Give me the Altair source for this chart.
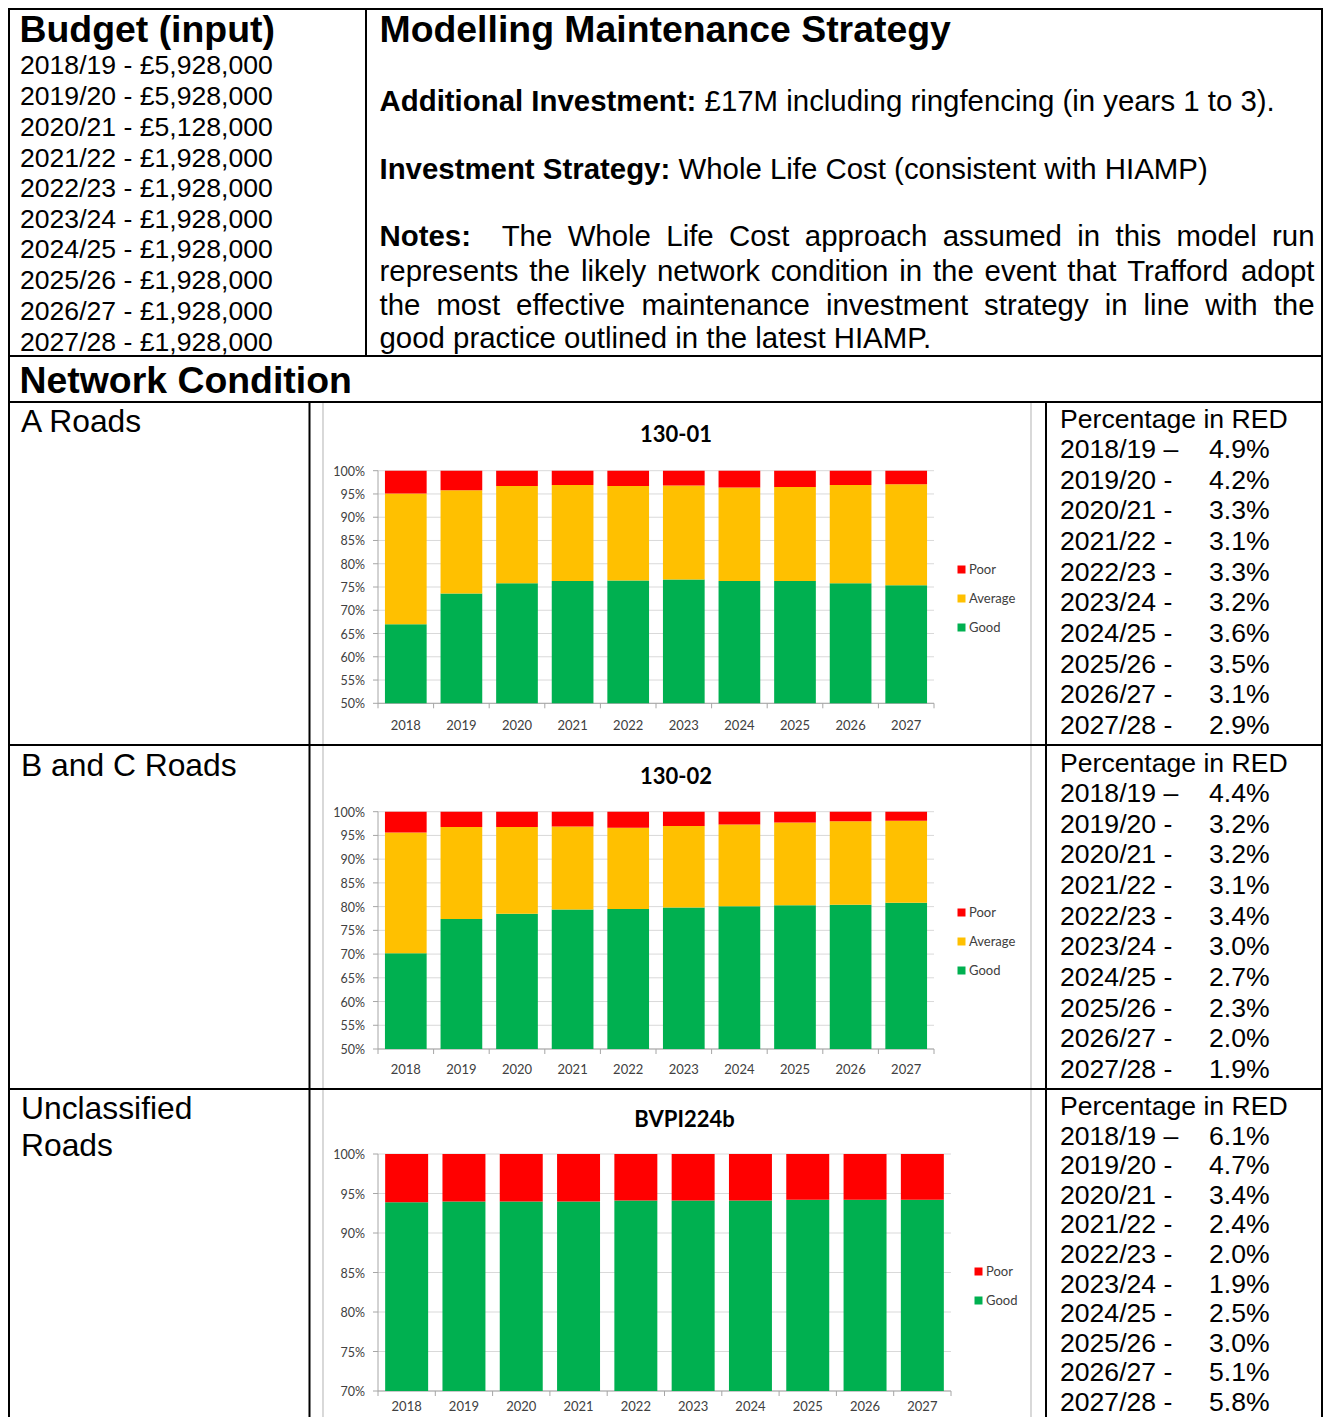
import altair as alt
import pandas as pd

# ---------------- data ----------------
YEARS = ["2018", "2019", "2020", "2021", "2022", "2023", "2024", "2025", "2026", "2027"]
FIN_YEARS = ["2018/19", "2019/20", "2020/21", "2021/22", "2022/23",
             "2023/24", "2024/25", "2025/26", "2026/27", "2027/28"]
BUDGET = [5928000, 5928000, 5128000, 1928000, 1928000,
          1928000, 1928000, 1928000, 1928000, 1928000]

A_GOOD = [67.0, 73.6, 75.8, 76.3, 76.4, 76.6, 76.3, 76.3, 75.8, 75.4]
A_AVG = [28.1, 22.2, 20.9, 20.6, 20.3, 20.2, 20.1, 20.2, 21.1, 21.7]
A_POOR = [4.9, 4.2, 3.3, 3.1, 3.3, 3.2, 3.6, 3.5, 3.1, 2.9]

B_GOOD = [70.2, 77.4, 78.5, 79.4, 79.5, 79.8, 80.1, 80.3, 80.4, 80.8]
B_AVG = [25.4, 19.4, 18.3, 17.5, 17.1, 17.2, 17.2, 17.4, 17.6, 17.3]
B_POOR = [4.4, 3.2, 3.2, 3.1, 3.4, 3.0, 2.7, 2.3, 2.0, 1.9]

C_GOOD = [93.9, 94.0, 94.0, 94.0, 94.1, 94.1, 94.1, 94.2, 94.2, 94.2]
C_POOR = [6.1, 6.0, 6.0, 6.0, 5.9, 5.9, 5.9, 5.8, 5.8, 5.8]

A_RED_TEXT = [4.9, 4.2, 3.3, 3.1, 3.3, 3.2, 3.6, 3.5, 3.1, 2.9]
B_RED_TEXT = [4.4, 3.2, 3.2, 3.1, 3.4, 3.0, 2.7, 2.3, 2.0, 1.9]
C_RED_TEXT = [6.1, 4.7, 3.4, 2.4, 2.0, 1.9, 2.5, 3.0, 5.1, 5.8]

CONDS = ["Poor", "Average", "Good"]
COLORS = ["#ff0000", "#ffc000", "#00b050"]

DOC_FONT = "Liberation Sans"
XL_FONT = "Lato"
W, H = 1315, 1409
OFF = 8  # page margin: reference px -> chart px

# ---------------- text metrics (Arial / Liberation Sans) ----------------
REG = {" ": 278, "(": 333, ")": 333, ",": 278, "-": 333, ".": 278, "/": 278, ":": 278,
       "£": 556, "%": 889, "–": 556,
       "A": 667, "B": 667, "C": 722, "D": 722, "E": 667, "F": 611, "G": 778, "H": 722,
       "I": 278, "J": 500, "K": 667, "L": 556, "M": 833, "N": 722, "O": 778, "P": 667,
       "Q": 778, "R": 722, "S": 667, "T": 611, "U": 722, "V": 667, "W": 944, "X": 667,
       "Y": 667, "Z": 611,
       "a": 556, "b": 556, "c": 500, "d": 556, "e": 556, "f": 278, "g": 556, "h": 556,
       "i": 222, "j": 222, "k": 500, "l": 222, "m": 833, "n": 556, "o": 556, "p": 556,
       "q": 556, "r": 333, "s": 500, "t": 278, "u": 556, "v": 500, "w": 722, "x": 500,
       "y": 500, "z": 500}
BOLD = {" ": 278, ":": 333, "A": 722, "I": 278, "N": 722, "S": 667, "a": 556, "d": 611,
        "e": 556, "g": 611, "i": 278, "l": 278, "m": 889, "n": 611, "o": 611, "r": 389,
        "s": 556, "t": 333, "v": 556, "y": 556}


def tw(s, fs, bold=False):
    tab = BOLD if bold else REG
    return sum(tab.get(c, 556) for c in s) * fs / 1000.0


texts = []  # x, y (baseline, reference px), text, size, bold


def add(x, y, t, fs, bold=False):
    texts.append(dict(x=x - OFF, y=y - OFF, text=t, fs=fs, bold=bold))


TITLE_FS = 37.4
BODY_FS = 26.6
STRAT_FS = 29.4
LABEL_FS = 31.8

# Budget column
add(19.5, 42, "Budget (input)", TITLE_FS, True)
budget_y = [74, 105, 136, 167, 197, 228, 258, 289, 320, 351]
for fy, b, yy in zip(FIN_YEARS, BUDGET, budget_y):
    add(20, yy, f"{fy} - £{b:,}", BODY_FS)

# Strategy column
SX = 379.5
add(SX, 42, "Modelling Maintenance Strategy", TITLE_FS, True)
add(SX, 110.5, "Additional Investment:", STRAT_FS, True)
add(SX + tw("Additional Investment: ", STRAT_FS, True), 110.5,
    "£17M including ringfencing (in years 1 to 3).", STRAT_FS)
add(SX, 178.5, "Investment Strategy:", STRAT_FS, True)
add(SX + tw("Investment Strategy: ", STRAT_FS, True), 178.5,
    "Whole Life Cost (consistent with HIAMP)", STRAT_FS)

RIGHT = 1314.5
note_lines = [
    (245.5, [("Notes:", True, 2)] + [(w, False, 1) for w in
                                      "The Whole Life Cost approach assumed in this model run".split()]),
    (280.5, [(w, False, 1) for w in
             "represents the likely network condition in the event that Trafford adopt".split()]),
    (314.5, [(w, False, 1) for w in
             "the most effective maintenance investment strategy in line with the".split()]),
]
for yy, toks in note_lines:
    total = sum(tw(t, STRAT_FS, b) for t, b, _ in toks)
    nsp = sum(s for _, _, s in toks[:-1])
    gap = (RIGHT - SX - total) / nsp
    x = SX
    for t, b, s in toks:
        add(x, yy, t, STRAT_FS, b)
        x += tw(t, STRAT_FS, b) + s * gap
add(SX, 347.5, "good practice outlined in the latest HIAMP.", STRAT_FS)

# Network condition
add(19.5, 393, "Network Condition", TITLE_FS, True)
add(21, 432, "A Roads", LABEL_FS, False)
add(21, 776, "B and C Roads", LABEL_FS, False)
add(21, 1119, "Unclassified", LABEL_FS, False)
add(21, 1156, "Roads", LABEL_FS, False)

# Percentage in RED columns
for start, step, vals in [(427.5, 30.65, A_RED_TEXT), (771.5, 30.65, B_RED_TEXT),
                          (1115, 29.6, C_RED_TEXT)]:
    add(1060, start, "Percentage in RED", BODY_FS)
    for i, (fy, v) in enumerate(zip(FIN_YEARS, vals)):
        yy = start + step * (i + 1)
        add(1060, yy, fy + (" –" if i == 0 else " -"), BODY_FS)
        add(1209, yy, f"{v:.1f}%", BODY_FS)

tdf = pd.DataFrame(texts)


def text_layer(df, bold):
    return alt.Chart(df).mark_text(
        align="left", baseline="alphabetic", font=DOC_FONT,
        fontWeight="bold" if bold else "normal", color="#000000"
    ).encode(
        x=alt.X("x:Q", scale=None, axis=None),
        y=alt.Y("y:Q", scale=None, axis=None),
        text="text:N",
        size=alt.Size("fs:Q", scale=None, legend=None),
    )


text_reg = text_layer(tdf[~tdf.bold], False)
text_bold = text_layer(tdf[tdf.bold], True)

# ---------------- table lines ----------------
lines_black = pd.DataFrame([
    dict(x=0, y=1, x2=W, y2=1),
    dict(x=1, y=0, x2=1, y2=H),
    dict(x=W - 1, y=0, x2=W - 1, y2=H),
    dict(x=0, y=348, x2=W, y2=348),
    dict(x=0, y=394, x2=W, y2=394),
    dict(x=358, y=0, x2=358, y2=348),
    dict(x=0, y=737, x2=W, y2=737),
    dict(x=0, y=1081, x2=W, y2=1081),
    dict(x=301.5, y=394, x2=301.5, y2=H),
    dict(x=1038, y=394, x2=1038, y2=H),
])
lines_grey = pd.DataFrame([
    dict(x=315, y=395, x2=315, y2=H),
    dict(x=1023, y=395, x2=1023, y2=H),
])


def line_layer(df, color, sw):
    return alt.Chart(df).mark_rule(color=color, strokeWidth=sw).encode(
        x=alt.X("x:Q", scale=None, axis=None),
        y=alt.Y("y:Q", scale=None, axis=None),
        x2="x2:Q", y2="y2:Q",
    )


grey_layer = line_layer(lines_grey, "#bfbfbf", 1.2)
black_layer = line_layer(lines_black, "#000000", 2)


# ---------------- bar panels ----------------
def panel(good, avg, poor, x0, x1, ytop, ybot, dmin, title, title_y, label_y, leg_x, leg_y):
    x0, x1, ytop, ybot = x0 - OFF, x1 - OFF, ytop - OFF, ybot - OFF
    rows = []
    for i, yr in enumerate(YEARS):
        rows.append(dict(year=yr, cond="Good", value=good[i], ord=0))
        if avg is not None:
            rows.append(dict(year=yr, cond="Average", value=avg[i], ord=1))
        rows.append(dict(year=yr, cond="Poor", value=poor[i], ord=2))
    df = pd.DataFrame(rows)
    conds = CONDS if avg is not None else ["Poor", "Good"]
    cols = COLORS if avg is not None else ["#ff0000", "#00b050"]

    xs = alt.Scale(domain=YEARS, range=[x0, x1], paddingInner=0.25, paddingOuter=0.125)
    ys = alt.Scale(domain=[dmin, 100], range=[ybot, ytop], clamp=True, nice=False, zero=False)
    step = (x1 - x0) / len(YEARS)

    ticks = list(range(dmin, 101, 5))
    tdf_ = pd.DataFrame(dict(v=ticks, lab=[f"{t}%" for t in ticks]))
    ydf = pd.DataFrame(dict(year=YEARS))
    one = pd.DataFrame(dict(a=[0]))

    grid = alt.Chart(tdf_).mark_rule(color="#d9d9d9", strokeWidth=1).encode(
        y=alt.Y("v:Q", scale=ys, axis=None), x=alt.value(x0), x2=alt.value(x1))
    ytick = alt.Chart(tdf_).mark_rule(color="#a6a6a6", strokeWidth=1).encode(
        y=alt.Y("v:Q", scale=ys, axis=None), x=alt.value(x0 - 5), x2=alt.value(x0))
    ylab = alt.Chart(tdf_).mark_text(align="right", baseline="middle", font=XL_FONT,
                                     fontSize=12.5, color="#404040", dy=1).encode(
        y=alt.Y("v:Q", scale=ys, axis=None), x=alt.value(x0 - 13), text="lab:N")
    yaxis = alt.Chart(one).mark_rule(color="#a6a6a6", strokeWidth=1).encode(
        x=alt.value(x0), y=alt.value(ytop), y2=alt.value(ybot + 5))
    xtick = alt.Chart(ydf).mark_rule(color="#a6a6a6", strokeWidth=1, xOffset=step / 2).encode(
        x=alt.X("year:N", scale=xs, axis=None), y=alt.value(ybot), y2=alt.value(ybot + 5))
    xaxis = alt.Chart(one).mark_rule(color="#a6a6a6", strokeWidth=1).encode(
        x=alt.value(x0), x2=alt.value(x1), y=alt.value(ybot))
    xlab = alt.Chart(ydf).mark_text(baseline="middle", font=XL_FONT, fontSize=13,
                                    color="#404040").encode(
        x=alt.X("year:N", scale=xs, axis=None), y=alt.value(label_y - OFF), text="year:N")
    ttl = alt.Chart(one).mark_text(baseline="middle", font=XL_FONT, fontSize=22,
                                   fontWeight="bold", color="#000000", text=title).encode(
        x=alt.value((x0 + x1) / 2 + 20), y=alt.value(title_y - OFF))
    bars = alt.Chart(df).mark_bar(strokeWidth=0).encode(
        x=alt.X("year:N", scale=xs, axis=None),
        y=alt.Y("value:Q", stack="zero", scale=ys, axis=None),
        order=alt.Order("ord:Q"),
        color=alt.Color("cond:N", scale=alt.Scale(domain=conds, range=cols),
                        legend=alt.Legend(orient="none", legendX=leg_x - OFF, legendY=leg_y - OFF,
                                          title=None, symbolType="square", symbolSize=64,
                                          symbolStrokeWidth=0, labelFont=XL_FONT,
                                          labelFontSize=13, labelColor="#404040",
                                          rowPadding=15, labelOffset=1)),
    )
    return alt.layer(grid, xaxis, ytick, yaxis, xtick, bars, ylab, xlab, ttl)


pA = panel(A_GOOD, A_AVG, A_POOR, 378, 934, 470.7, 703.3, 50, "130-01", 435, 726, 955, 563)
pB = panel(B_GOOD, B_AVG, B_POOR, 378, 934, 811.7, 1049, 50, "130-02", 777, 1070, 955, 906)
pC = panel(C_GOOD, None, C_POOR, 378, 951, 1154, 1391, 70, "BVPI224b", 1120, 1407, 972, 1265)

chart = alt.layer(
    grey_layer, black_layer, text_reg, text_bold, pA, pB, pC
).resolve_scale(
    x="independent", y="independent", color="independent"
).properties(
    width=W, height=H, padding=0,
    autosize=alt.AutoSizeParams(type="none"),
).configure_view(stroke=None)

chart.save("out.html", embed_options={"renderer": "svg", "actions": False})
